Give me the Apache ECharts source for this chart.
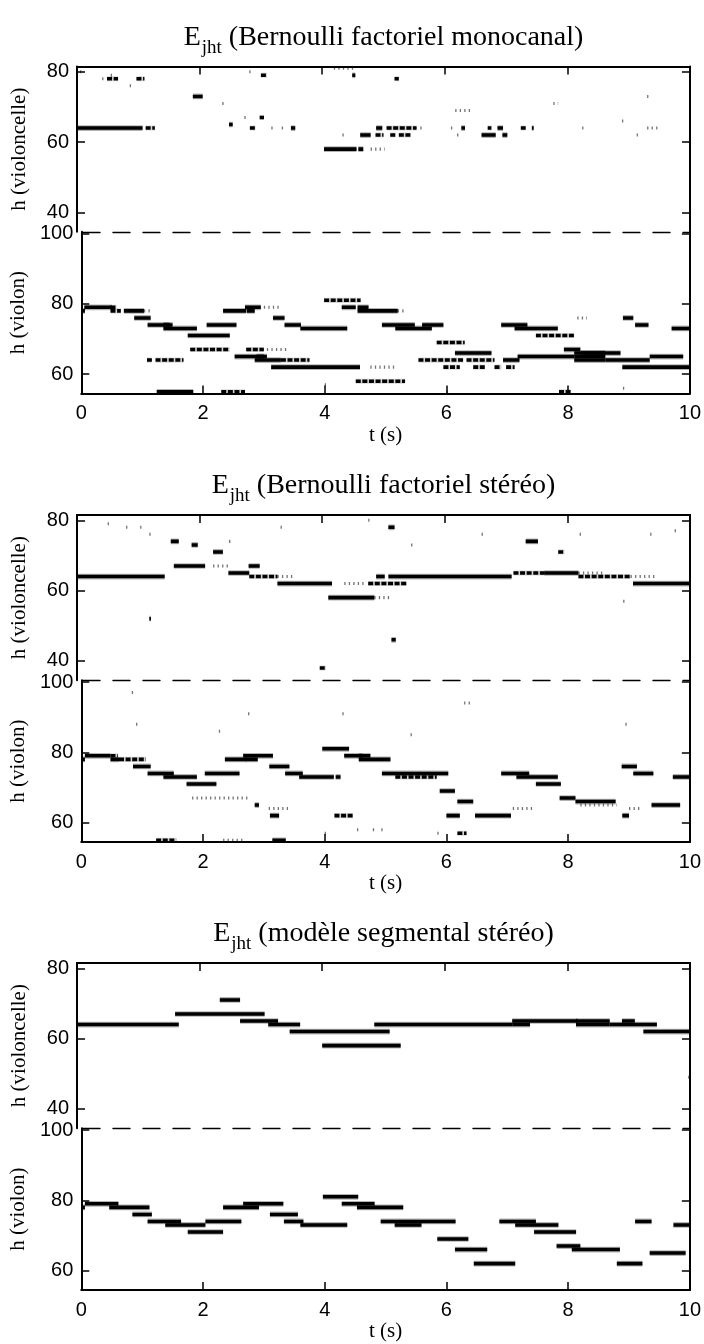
<!DOCTYPE html>
<html>
<head>
<meta charset="utf-8">
<script src="https://cdn.jsdelivr.net/npm/echarts@6/dist/echarts.min.js"></script>
<style>
  html, body { margin: 0; padding: 0; background: #ffffff; }
  #chart { width: 704px; height: 1344px; }
</style>
</head>
<body>
<div id="chart"></div>
<script>
// Note activations E_jht read as segments: [t start (s), t end (s), pitch h, style]
// style 1 = solid activation, 2 = broken activation, 3 = sparse / weak activation

// Bernoulli factoriel monocanal
const monoCello = [
  [0, 1.07, 64, 1], [1.12, 1.27, 64, 2],
  [0.05, 0.08, 80, 3], [0.41, 0.44, 78, 3], [0.49, 0.67, 78, 2], [0.55, 0.58, 79, 3], [0.97, 1.1, 78, 2], [0.86, 0.89, 76, 3],
  [1.89, 2.05, 73, 1], [2.37, 2.4, 71, 3], [2.48, 2.54, 65, 1], [2.73, 2.76, 67, 3], [2.98, 3.05, 67, 2],
  [2.82, 2.91, 64, 2], [3.17, 3.2, 64, 3], [3.34, 3.37, 64, 3], [3.49, 3.56, 64, 1],
  [2.81, 2.84, 80, 3], [3.0, 3.1, 79, 2],
  [4.19, 4.52, 81, 3], [4.49, 4.54, 79, 1], [5.18, 5.25, 78, 2],
  [4.03, 4.56, 58, 1], [4.59, 4.67, 58, 1], [4.79, 5.02, 58, 3],
  [4.33, 4.35, 62, 3], [4.62, 4.79, 62, 1], [4.87, 5.0, 62, 2], [5.11, 5.2, 62, 2], [5.25, 5.44, 62, 2],
  [4.88, 4.98, 64, 1], [5.05, 5.54, 64, 2], [5.6, 5.62, 64, 3],
  [6.1, 6.13, 64, 3], [6.27, 6.33, 64, 1], [6.7, 6.76, 64, 2], [6.86, 6.95, 64, 1], [7.24, 7.32, 64, 2], [7.42, 7.45, 64, 1],
  [8.24, 8.31, 64, 3], [9.3, 9.49, 64, 3],
  [6.2, 6.22, 62, 3], [6.6, 6.83, 62, 1], [6.94, 7.02, 62, 1], [9.13, 9.15, 62, 3],
  [6.17, 6.43, 69, 3], [7.77, 7.85, 71, 3], [9.3, 9.32, 73, 3], [8.89, 8.91, 66, 3]
];
const monoViolon = [
  [0, 0.06, 78, 1], [0.05, 0.5, 79, 1], [0.48, 0.65, 78, 2], [0.48, 0.58, 79, 2], [0.7, 1.03, 78, 1], [1.03, 1.14, 78, 3],
  [0.87, 1.14, 76, 1], [1.09, 1.5, 74, 1], [1.35, 1.9, 73, 1], [1.35, 1.45, 74, 1],
  [1.75, 2.44, 71, 1], [2.06, 2.55, 74, 1],
  [1.79, 2.44, 67, 2], [2.71, 3.0, 67, 2], [3.05, 3.39, 67, 3],
  [1.08, 1.16, 64, 2], [1.22, 1.68, 64, 2],
  [2.33, 2.71, 78, 1], [2.69, 2.95, 79, 1], [2.72, 2.85, 78, 1], [3.0, 3.26, 79, 3],
  [3.15, 3.34, 76, 1], [3.34, 3.61, 74, 1], [3.6, 4.37, 73, 1],
  [2.52, 3.0, 65, 1], [2.85, 3.28, 64, 1], [2.88, 3.05, 65, 1], [3.28, 3.75, 64, 2],
  [3.12, 4.58, 62, 1],
  [1.24, 1.84, 55, 1], [2.3, 2.69, 55, 2],
  [3.99, 4.59, 81, 2], [4.28, 4.51, 79, 1], [4.54, 4.72, 79, 1], [4.54, 5.2, 78, 1], [5.2, 5.34, 78, 3],
  [4.94, 5.48, 74, 1], [5.16, 5.76, 73, 1], [5.6, 5.95, 74, 1],
  [4.51, 5.32, 58, 2], [4.75, 5.19, 62, 3], [4.0, 4.02, 57, 3],
  [5.84, 6.3, 69, 2], [6.14, 6.74, 66, 1],
  [5.54, 6.28, 64, 2], [6.33, 6.79, 64, 2], [6.93, 7.2, 64, 1],
  [5.95, 6.22, 62, 2], [6.44, 6.63, 62, 2], [6.79, 6.9, 62, 2], [6.98, 7.12, 62, 2],
  [6.9, 7.33, 74, 1], [7.12, 7.83, 73, 1],
  [7.47, 8.1, 71, 2],
  [7.17, 8.1, 65, 1], [7.93, 8.2, 67, 1], [8.1, 8.61, 66, 1], [8.1, 8.61, 65, 1], [8.1, 8.61, 64, 1], [8.21, 8.86, 66, 1],
  [8.61, 9.34, 64, 1], [9.34, 9.89, 65, 1], [8.89, 10, 62, 1],
  [8.15, 8.31, 76, 3], [8.9, 9.07, 76, 1], [9.1, 9.32, 74, 1], [9.7, 10, 73, 1],
  [7.85, 8.04, 55, 2], [8.9, 8.92, 56, 3], [6.0, 6.02, 55, 3]
];

// Bernoulli factoriel stéréo
const stereoCello = [
  [0, 1.43, 64, 1],
  [1.58, 2.09, 67, 1], [2.22, 2.48, 67, 3],
  [1.53, 1.66, 74, 1], [1.87, 1.97, 73, 1], [2.22, 2.38, 71, 1],
  [2.47, 2.81, 65, 1], [2.8, 2.98, 67, 1],
  [2.81, 3.27, 64, 2], [3.27, 3.54, 64, 3],
  [3.27, 4.16, 62, 1], [4.36, 4.72, 62, 3], [4.75, 5.38, 62, 2],
  [4.1, 4.85, 58, 1], [4.85, 5.12, 58, 3],
  [4.88, 5.02, 64, 1], [5.08, 7.09, 64, 1],
  [5.08, 5.18, 78, 1], [4.75, 4.82, 80, 3],
  [7.12, 7.62, 65, 2], [7.62, 8.18, 65, 1], [8.18, 9.03, 64, 2], [8.18, 8.6, 65, 3], [9.03, 9.43, 64, 3],
  [9.07, 10, 62, 1],
  [7.32, 7.52, 74, 1], [7.85, 7.95, 71, 2],
  [5.13, 5.2, 46, 1], [3.96, 4.06, 38, 2], [1.18, 1.2, 52, 1], [8.91, 8.93, 57, 3],
  [0.5, 0.52, 79, 3], [0.8, 0.82, 78, 3], [1.03, 1.05, 78, 3], [1.18, 1.2, 76, 3], [2.48, 2.5, 74, 3], [3.32, 3.34, 78, 3],
  [5.45, 5.47, 73, 3], [6.6, 6.62, 76, 3], [8.2, 8.22, 76, 3], [9.35, 9.37, 76, 3], [9.75, 9.77, 77, 3]
];
const stereoViolon = [
  [0, 0.06, 78, 1], [0.06, 0.48, 79, 1], [0.48, 0.62, 78, 1], [0.48, 0.6, 79, 2], [0.62, 1.06, 78, 2],
  [0.85, 1.14, 76, 1], [1.09, 1.52, 74, 1], [1.35, 1.9, 73, 1],
  [1.73, 2.22, 71, 1], [2.03, 2.6, 74, 1], [1.82, 2.77, 67, 3],
  [2.36, 2.71, 78, 1], [2.66, 3.15, 79, 1], [2.7, 2.9, 78, 1],
  [3.09, 3.42, 76, 1], [3.35, 3.64, 74, 1], [3.58, 4.15, 73, 1], [4.18, 4.26, 73, 1],
  [2.85, 2.92, 65, 1], [3.1, 3.25, 62, 1], [3.08, 3.45, 64, 3],
  [1.23, 1.56, 55, 2], [2.33, 2.7, 55, 3], [3.14, 3.36, 55, 1],
  [3.96, 4.4, 81, 1], [4.32, 4.62, 79, 1], [4.56, 5.08, 78, 1], [4.56, 4.75, 79, 1],
  [4.16, 4.46, 62, 2],
  [4.94, 6.03, 74, 1], [5.16, 5.84, 73, 2],
  [5.89, 6.14, 69, 1], [6.18, 6.44, 66, 1], [6.0, 6.22, 62, 1], [6.47, 7.06, 62, 1], [6.18, 6.33, 57, 2],
  [6.9, 7.36, 74, 1], [7.15, 7.83, 73, 1], [7.47, 7.88, 71, 1], [7.09, 7.46, 64, 3],
  [7.86, 8.12, 67, 1], [8.12, 8.78, 66, 1], [8.2, 8.8, 65, 3],
  [8.89, 9.0, 62, 1], [8.88, 9.13, 76, 1], [9.07, 9.4, 74, 1], [9.37, 9.84, 65, 1], [9.72, 10, 73, 1], [9.0, 9.2, 64, 3],
  [0.83, 0.85, 97, 3], [0.9, 0.92, 88, 3], [2.26, 2.28, 86, 3], [2.74, 2.76, 91, 3], [4.29, 4.31, 91, 3],
  [5.41, 5.43, 85, 3], [6.29, 6.4, 94, 3], [8.94, 8.96, 88, 3],
  [4.53, 4.55, 58, 3], [4.79, 4.81, 58, 3], [4.93, 5.0, 58, 3], [5.85, 5.87, 57, 3], [4.0, 4.02, 57, 3]
];

// modèle segmental stéréo
const segCello = [
  [0, 1.66, 64, 1], [1.6, 3.06, 67, 1], [2.33, 2.66, 71, 1], [2.66, 3.28, 65, 1],
  [3.12, 3.64, 64, 1], [3.47, 5.1, 62, 1], [4.0, 5.28, 58, 1], [4.85, 7.1, 64, 1],
  [7.1, 8.16, 65, 1], [7.1, 7.39, 64, 1], [8.14, 8.69, 64, 1], [8.14, 8.69, 65, 1],
  [8.69, 8.89, 64, 1], [8.89, 9.1, 65, 1], [8.89, 9.46, 64, 1], [9.24, 10, 62, 1],
  [9.97, 10, 49, 3]
];
const segViolon = [
  [0, 0.06, 78, 1], [0.06, 0.61, 79, 1], [0.46, 1.12, 78, 1], [0.84, 1.16, 76, 1],
  [1.09, 1.64, 74, 1], [1.38, 2.04, 73, 1], [1.75, 2.33, 71, 1], [2.04, 2.63, 74, 1],
  [2.33, 2.92, 78, 1], [2.66, 3.32, 79, 1], [3.1, 3.56, 76, 1], [3.33, 3.65, 74, 1],
  [3.6, 4.37, 73, 1], [3.97, 4.55, 81, 1], [4.28, 4.82, 79, 1], [4.53, 5.29, 78, 1],
  [4.92, 6.15, 74, 1], [5.15, 5.59, 73, 1], [5.85, 6.36, 69, 1], [6.14, 6.67, 66, 1],
  [6.45, 7.13, 62, 1], [6.87, 7.47, 74, 1], [7.13, 7.84, 73, 1], [7.44, 8.13, 71, 1],
  [7.81, 8.2, 67, 1], [8.06, 8.85, 66, 1], [8.8, 9.22, 62, 1], [9.1, 9.37, 74, 1],
  [9.34, 9.93, 65, 1], [9.73, 10, 73, 1]
];

const panelTitles = ['(Bernoulli factoriel monocanal)', '(Bernoulli factoriel stéréo)', '(modèle segmental stéréo)'];
const panelData = [[monoCello, monoViolon], [stereoCello, stereoViolon], [segCello, segViolon]];
const timeTicks = [0, 2, 4, 6, 8, 10];
const celloTicks = [40, 60, 80];
const violonTicks = [60, 80, 100];
const celloRange = [34.5, 81.5];
const violonRange = [54.5, 100.5];

// layout
const PANEL_TOP = [66.5, 515, 963];
const PLOT_H = 327;
const UNIT = PLOT_H / ((celloRange[1] - celloRange[0]) + (violonRange[1] - violonRange[0]));
const LEFT = 77, RIGHT = 14;
const SANS = 'Liberation Sans, Arial, Helvetica, sans-serif';
const SERIF = 'Liberation Serif, Times New Roman, serif';

function renderNote(params, api) {
  const t0 = api.value(0), t1 = api.value(1), h = api.value(2), s = api.value(3);
  const a = api.coord([t0, h + 0.5]);
  const b = api.coord([t1, h - 0.5]);
  const x = a[0], y = a[1];
  const w = Math.max(b[0] - a[0], 1.6);
  const hh = b[1] - a[1];
  const ym = y + hh / 2;
  if (s === 1) {
    return { type: 'group', children: [
      { type: 'rect', shape: { x: x, y: y - 1.1, width: w, height: hh + 2.2 }, style: { fill: 'rgba(0,0,0,0.3)' } },
      { type: 'rect', shape: { x: x, y: y, width: w, height: hh }, style: { fill: '#000' } }
    ] };
  }
  if (s === 2) {
    return { type: 'group', children: [
      { type: 'rect', shape: { x: x, y: y - 0.8, width: w, height: hh + 1.6 }, style: { fill: 'rgba(0,0,0,0.16)' } },
      { type: 'line', shape: { x1: x, y1: ym, x2: x + w, y2: ym },
        style: { stroke: '#000', lineWidth: hh, lineDash: [5, 1.6] } }
    ] };
  }
  return { type: 'line', shape: { x1: x, y1: ym, x2: x + w, y2: ym },
    style: { stroke: 'rgba(0,0,0,0.55)', lineWidth: hh - 0.5, lineDash: [1.3, 3.2] } };
}

const grids = [], xAxes = [], yAxes = [], series = [], graphics = [];
const lineCol = '#000';

function yAxisPair(gridIndex, range, ticks, name) {
  const base = {
    type: 'value', gridIndex: gridIndex, min: range[0], max: range[1],
    splitLine: { show: false },
    axisLine: { show: true, onZero: false, lineStyle: { color: lineCol, width: 2 } },
    axisTick: { show: true, inside: true, length: 8, customValues: ticks, lineStyle: { color: lineCol, width: 1.5 } }
  };
  yAxes.push(Object.assign({}, base, {
    position: 'left',
    axisLabel: { show: true, customValues: ticks, color: '#000', fontSize: 20, fontFamily: SANS, margin: 8 },
    name: name, nameLocation: 'middle', nameRotate: 90, nameGap: 47,
    nameTextStyle: { color: '#000', fontSize: 21, fontFamily: SERIF }
  }));
  yAxes.push(Object.assign({}, base, { position: 'right', axisLabel: { show: false } }));
}

for (let p = 0; p < 3; p++) {
  const top = PANEL_TOP[p];
  const hC = (celloRange[1] - celloRange[0]) * UNIT;
  const hV = (violonRange[1] - violonRange[0]) * UNIT;
  const gC = grids.length;
  grids.push({ left: LEFT, right: RIGHT, top: top, height: hC });
  const gV = grids.length;
  grids.push({ left: LEFT, right: RIGHT, top: top + hC, height: hV });

  // top frame with ticks
  const xTop = xAxes.length;
  xAxes.push({
    type: 'value', gridIndex: gC, position: 'top', min: 0, max: 10, interval: 2,
    splitLine: { show: false },
    axisLine: { show: true, onZero: false, lineStyle: { color: lineCol, width: 2 } },
    axisTick: { show: true, inside: true, length: 8, lineStyle: { color: lineCol, width: 1.5 } },
    axisLabel: { show: false }
  });
  // dashed separator between the two instruments
  xAxes.push({
    type: 'value', gridIndex: gC, position: 'bottom', min: 0, max: 10,
    splitLine: { show: false },
    axisLine: { show: true, onZero: false, lineStyle: { color: lineCol, width: 1.4, type: [17, 13], dashOffset: -6 } },
    axisTick: { show: false }, axisLabel: { show: false }
  });
  // bottom time axis
  const xBot = xAxes.length;
  xAxes.push({
    type: 'value', gridIndex: gV, position: 'bottom', min: 0, max: 10, interval: 2,
    splitLine: { show: false },
    axisLine: { show: true, onZero: false, lineStyle: { color: lineCol, width: 2 } },
    axisTick: { show: true, inside: true, length: 8, lineStyle: { color: lineCol, width: 1.5 } },
    axisLabel: { show: true, color: '#000', fontSize: 20, fontFamily: SANS, margin: 10 },
    name: 't (s)', nameLocation: 'middle', nameGap: 31,
    nameTextStyle: { color: '#000', fontSize: 21, fontFamily: SERIF }
  });

  const yC = yAxes.length;
  yAxisPair(gC, celloRange, celloTicks, 'h (violoncelle)');
  const yV = yAxes.length;
  yAxisPair(gV, violonRange, violonTicks, 'h (violon)');

  series.push({
    type: 'custom', name: 'violoncelle ' + p, xAxisIndex: xTop, yAxisIndex: yC,
    renderItem: renderNote, data: panelData[p][0], clip: true, silent: true, animation: false
  });
  series.push({
    type: 'custom', name: 'violon ' + p, xAxisIndex: xBot, yAxisIndex: yV,
    renderItem: renderNote, data: panelData[p][1], clip: true, silent: true, animation: false
  });

  graphics.push({
    type: 'text', x: LEFT + (704 - LEFT - RIGHT) / 2, y: top - 28,
    style: {
      text: '{e|E}{s|jht}{t| ' + panelTitles[p] + '}',
      align: 'center', verticalAlign: 'middle',
      rich: {
        e: { fontFamily: SERIF, fontSize: 28, lineHeight: 30, verticalAlign: 'top', fill: '#000' },
        s: { fontFamily: SERIF, fontSize: 19, lineHeight: 20, verticalAlign: 'top', padding: [15, 0, 0, 1], fill: '#000' },
        t: { fontFamily: SERIF, fontSize: 28, lineHeight: 30, verticalAlign: 'top', fill: '#000' }
      }
    }
  });
}

const chart = echarts.init(document.getElementById('chart'), null, { renderer: 'canvas', width: 704, height: 1344 });
chart.setOption({
  backgroundColor: '#ffffff',
  animation: false,
  grid: grids,
  xAxis: xAxes,
  yAxis: yAxes,
  series: series,
  graphic: graphics
});
</script>
</body>
</html>
